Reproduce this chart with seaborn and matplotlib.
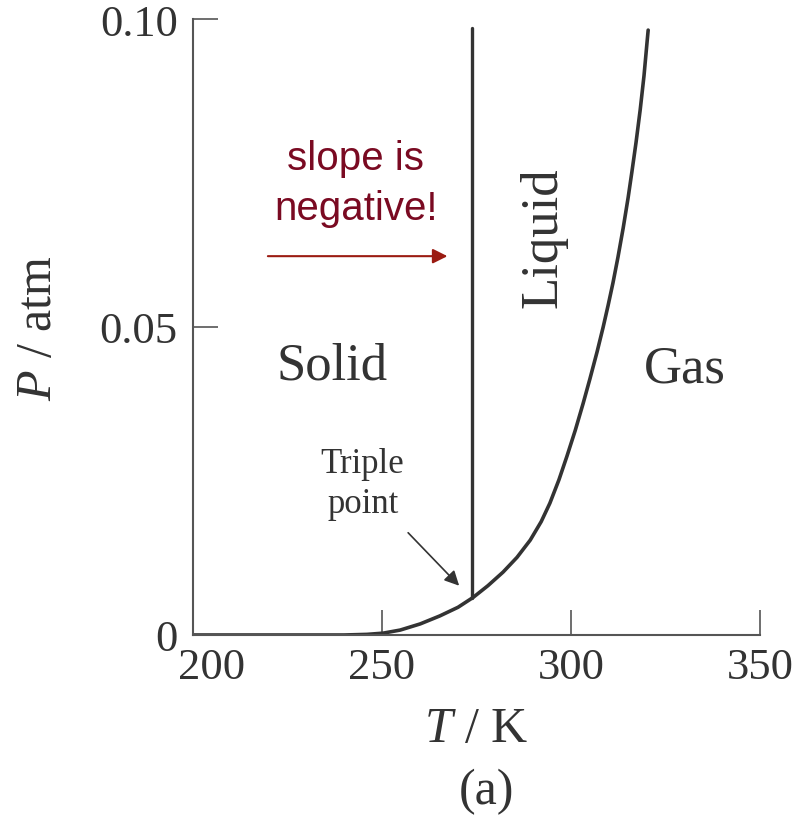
import numpy as np
import matplotlib
matplotlib.use("Agg")
import matplotlib.pyplot as plt
from matplotlib.transforms import ScaledTranslation
import seaborn as sns
import pandas as pd

# Sublimation / vaporisation curve (T in K, P in atm)
curve_T = [200, 220, 240, 246, 250.3, 254.8, 260.1, 265.3, 270.1, 274.1, 278.0,
           282.0, 285.7, 289.2, 292.1, 294.4, 296.8, 298.9, 301.1, 303.2,
           305.0, 306.9, 308.5, 309.8, 311.1, 312.4, 313.8, 315.1, 316.1,
           317.2, 318.3, 319.3, 320.1, 320.4]
curve_P = [0.0, 0.0, 0.0, 0.0001, 0.0003, 0.0008, 0.0018, 0.0031, 0.0045, 0.0061,
           0.0080, 0.0102, 0.0126, 0.0154, 0.0184, 0.0214, 0.0252, 0.0290,
           0.0332, 0.0376, 0.0416, 0.0460, 0.0500, 0.0535, 0.0572, 0.0613,
           0.0661, 0.0710, 0.0752, 0.0800, 0.0853, 0.0908, 0.0962, 0.0982]

# Melting line (nearly vertical)
melt_T = [273.8, 273.8]
melt_P = [0.0060, 0.0985]

x_ticks = [200, 250, 300, 350]
y_ticks = [0, 0.05, 0.10]
y_ticklabels = ["0", "0.05", "0.10"]

sns.set_theme(style="ticks")
plt.rcParams["font.family"] = ["Liberation Serif", "DejaVu Serif"]
plt.rcParams["mathtext.fontset"] = "custom"
plt.rcParams["mathtext.rm"] = "Liberation Serif"
plt.rcParams["mathtext.it"] = "Liberation Serif:italic"

line_color = "#333333"
axis_color = "#555555"
text_color = "#333333"
red_text = "#7a0a22"
red_arrow = "#9b1b12"

fig = plt.figure(figsize=(8.06, 8.2), dpi=100)
ax = fig.add_axes([0.2395, 0.2244, 0.7035, 0.7512])

df_curve = pd.DataFrame({"T": curve_T, "P": curve_P})
df_melt = pd.DataFrame({"T": melt_T, "P": melt_P})
sns.lineplot(data=df_curve, x="T", y="P", ax=ax, color=line_color,
             linewidth=2.6, estimator=None, sort=False,
             solid_joinstyle="round", solid_capstyle="round")
sns.lineplot(data=df_melt, x="T", y="P", ax=ax, color=line_color,
             linewidth=2.4, estimator=None, sort=False)

ax.set_xlim(200, 350)
ax.set_ylim(0, 0.10)
ax.set_xticks(x_ticks)
ax.set_xticklabels([str(t) for t in x_ticks])
ax.set_yticks(y_ticks)
ax.set_yticklabels(y_ticklabels)
ax.tick_params(direction="in", length=18, width=1.2, color=axis_color,
               labelsize=32, labelcolor=text_color)
ax.tick_params(axis="x", pad=9)
ax.tick_params(axis="y", pad=11)
sns.despine(ax=ax)
for s in ["left", "bottom"]:
    ax.spines[s].set_color(axis_color)
    ax.spines[s].set_linewidth(1.5)
ax.grid(False)

# the "200" label sits a little right of its tick, clear of the "0"
first = ax.get_xticklabels()[0]
first.set_transform(first.get_transform()
                    + ScaledTranslation(0.19, 0, fig.dpi_scale_trans))

ax.set_xlabel("$T$ / K", fontsize=36, color=text_color, labelpad=13)
ax.set_ylabel("$P$ / atm", fontsize=36, color=text_color, labelpad=27)

# Region labels
ax.text(236.8, 0.0416, "Solid", fontsize=38, color=text_color,
        ha="center", va="baseline")
ax.text(330.2, 0.0411, "Gas", fontsize=38, color=text_color,
        ha="center", va="baseline")
ax.text(292.6, 0.0646, "Liquid", fontsize=38, color=text_color,
        ha="center", va="center", rotation=90)
ax.text(244.8, 0.0265, "Triple", fontsize=25, color=text_color,
        ha="center", va="baseline")
ax.text(245.1, 0.0200, "point", fontsize=25, color=text_color,
        ha="center", va="baseline")
ax.annotate("", xy=(270.4, 0.0080), xytext=(256.9, 0.0166),
            arrowprops=dict(arrowstyle="-|>", color=text_color, lw=1.2,
                            mutation_scale=22, shrinkA=0, shrinkB=0))

# Annotation in red
sans = ["Liberation Sans", "DejaVu Sans"]
ax.text(243.1, 0.0756, "slope is", fontsize=29, color=red_text,
        ha="center", va="baseline", family=sans)
ax.text(243.1, 0.0675, "negative!", fontsize=29, color=red_text,
        ha="center", va="baseline", family=sans)
ax.annotate("", xy=(267.3, 0.0615), xytext=(219.8, 0.0615),
            arrowprops=dict(arrowstyle="-|>", color=red_arrow, lw=1.5,
                            mutation_scale=22, shrinkA=0, shrinkB=0))

fig.text(0.604, 0.034, "(a)", fontsize=36, color=text_color, ha="center",
         va="center")

fig.savefig("out.png", dpi=100)
